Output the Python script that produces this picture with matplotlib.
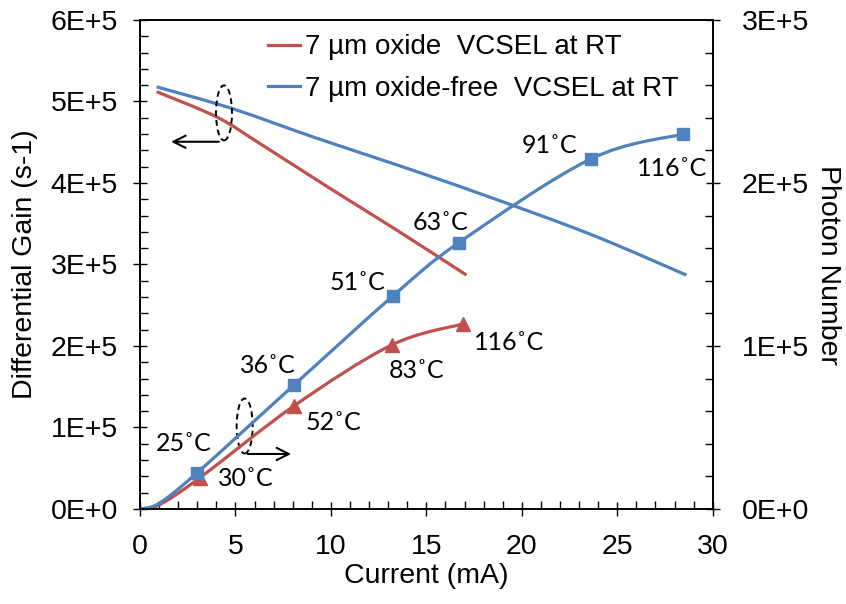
import numpy as np
import matplotlib
matplotlib.use("Agg")
import matplotlib.pyplot as plt
from matplotlib.path import Path
from matplotlib.patches import PathPatch, Ellipse
from matplotlib.lines import Line2D
from matplotlib.ticker import MultipleLocator, FuncFormatter

plt.rcParams['font.family'] = ['Liberation Sans', 'DejaVu Sans']

# differential gain vs current (left axis)
gain_x_oxide = [0.87, 4.02, 6.28, 9.95, 13.44, 17.1]
gain_oxide = [5.12e5, 4.81e5, 4.484e5, 3.934e5, 3.423e5, 2.87e5]
gain_x_free = [0.87, 4.8, 9.25, 13.61, 17.8, 23.56, 28.62]
gain_free = [5.18e5, 4.915e5, 4.55e5, 4.21e5, 3.87e5, 3.374e5, 2.87e5]

# photon number vs current (right axis)
ph_x_oxide = [0, 1.0, 3.14, 8.06, 13.18, 16.9]
ph_oxide = [0, 2.5e3, 1.92e4, 6.32e4, 1.006e5, 1.135e5]
temps_oxide = ['30', '52', '83', '116']
ph_x_free = [0, 1.0, 2.97, 8.06, 13.25, 16.7, 23.6, 28.43]
ph_free = [0, 3.5e3, 2.2e4, 7.6e4, 1.307e5, 1.634e5, 2.147e5, 2.30e5]
temps_free = ['25', '36', '51', '63', '91', '116']

labels = ['7 µm oxide  VCSEL at RT', '7 µm oxide-free  VCSEL at RT']
RED = '#C0504D'
BLUE = '#4F81BD'
FS = 20.5


def smooth_path(xs, ys):
    # bezier segments through the points, Catmull-Rom style
    pts = np.column_stack([xs, ys]).astype(float)
    n = len(pts)
    verts = [pts[0]]
    codes = [Path.MOVETO]
    for i in range(n - 1):
        p0 = pts[i - 1] if i > 0 else pts[i]
        p1 = pts[i]
        p2 = pts[i + 1]
        p3 = pts[i + 2] if i + 2 < n else pts[i + 1]
        verts += [p1 + (p2 - p0) / 6, p2 - (p3 - p1) / 6, p2]
        codes += [Path.CURVE4] * 3
    return Path(verts, codes)


def draw_curve(ax, xs, ys, color):
    ax.add_patch(PathPatch(smooth_path(xs, ys), fill=False, edgecolor=color,
                           lw=2.3, capstyle='butt', joinstyle='round'))


def sci(v, pos):
    if v == 0:
        return '0E+0'
    return '%dE+5' % round(v / 1e5)


fig = plt.figure(figsize=(8.46, 6.04), dpi=100)
ax = fig.add_axes([0.1655, 0.1573, 0.677, 0.8096])
ax2 = ax.twinx()

ax.set_xlim(0, 30)
ax.set_ylim(0, 6e5)
ax2.set_ylim(0, 3e5)

draw_curve(ax, gain_x_oxide, gain_oxide, RED)
draw_curve(ax, gain_x_free, gain_free, BLUE)

draw_curve(ax2, ph_x_oxide, ph_oxide, RED)
draw_curve(ax2, ph_x_free, ph_free, BLUE)
ax2.plot(ph_x_oxide[2:], ph_oxide[2:], ls='none', marker='^', ms=10, color=RED, mec=RED)
ax2.plot(ph_x_free[2:], ph_free[2:], ls='none', marker='s', ms=8.5, color=BLUE, mec=BLUE)

# temperature labels next to each marker
lab_font = dict(family=['Lato', 'DejaVu Sans'], size=18, ha='center', va='center')
off_free = [(-13, 30), (-26, 20), (-36, 13), (-18, 20), (-41, 14), (-11, -34)]
off_oxide = [(46, -1), (40, -17), (25, -25), (46, -19)]
for x, y, t, o in zip(ph_x_free[2:], ph_free[2:], temps_free, off_free):
    ax2.annotate(t + '˚C', (x, y), xytext=o, textcoords='offset pixels', **lab_font)
for x, y, t, o in zip(ph_x_oxide[2:], ph_oxide[2:], temps_oxide, off_oxide):
    ax2.annotate(t + '˚C', (x, y), xytext=o, textcoords='offset pixels', **lab_font)

# dashed ovals with arrows pointing to the axis each group belongs to
for cx, cy in [(0.1466, 0.81), (0.1827, 0.1697)]:
    ax.add_patch(Ellipse((cx, cy), 0.028, 0.1125, transform=ax.transAxes, fill=False,
                         ls=(0, (3, 2)), lw=1.4, color='black'))
ax.annotate('', xy=(0.0494, 0.751), xytext=(0.1426, 0.751), xycoords='axes fraction',
            arrowprops=dict(arrowstyle='->', lw=1.5, color='black', mutation_scale=22))
ax.annotate('', xy=(0.2688, 0.1125), xytext=(0.1832, 0.1125), xycoords='axes fraction',
            arrowprops=dict(arrowstyle='->', lw=1.5, color='black', mutation_scale=22))

# axes, ticks
ax.xaxis.set_major_locator(MultipleLocator(5))
ax.xaxis.set_minor_locator(MultipleLocator(1))
ax.yaxis.set_major_locator(MultipleLocator(1e5))
ax.yaxis.set_minor_locator(MultipleLocator(2e4))
ax2.yaxis.set_major_locator(MultipleLocator(1e5))
ax2.yaxis.set_minor_locator(MultipleLocator(2e4))
ax.yaxis.set_major_formatter(FuncFormatter(sci))
ax2.yaxis.set_major_formatter(FuncFormatter(sci))

ax.tick_params(axis='x', which='major', direction='inout', length=10, width=1, pad=13, labelsize=FS)
ax.tick_params(axis='x', which='minor', direction='in', length=6, width=1)
ax.tick_params(axis='y', which='major', direction='inout', length=10, width=1, pad=11, labelsize=FS)
ax.tick_params(axis='y', which='minor', direction='in', length=6, width=1)
ax2.tick_params(axis='y', which='major', direction='inout', length=10, width=1, pad=16, labelsize=FS)
ax2.tick_params(axis='y', which='minor', direction='in', length=6, width=1)
for a in (ax, ax2):
    for s in a.spines.values():
        s.set_linewidth(1.2)

ax.set_xlabel('Current (mA)', fontsize=FS, labelpad=2)
ax.set_ylabel('Differential Gain (s-1)', fontsize=FS, labelpad=9)
ax2.set_ylabel('Photon Number', fontsize=FS, rotation=270, labelpad=23)

handles = [Line2D([], [], color=RED, lw=2.3), Line2D([], [], color=BLUE, lw=2.3)]
ax.legend(handles, labels, loc='upper left', bbox_to_anchor=(0.2234, 0.9704), frameon=False,
          fontsize=20, borderpad=0, borderaxespad=0, handlelength=1.14, handletextpad=0.18,
          labelspacing=0.56)

fig.savefig('out.png', dpi=100)
